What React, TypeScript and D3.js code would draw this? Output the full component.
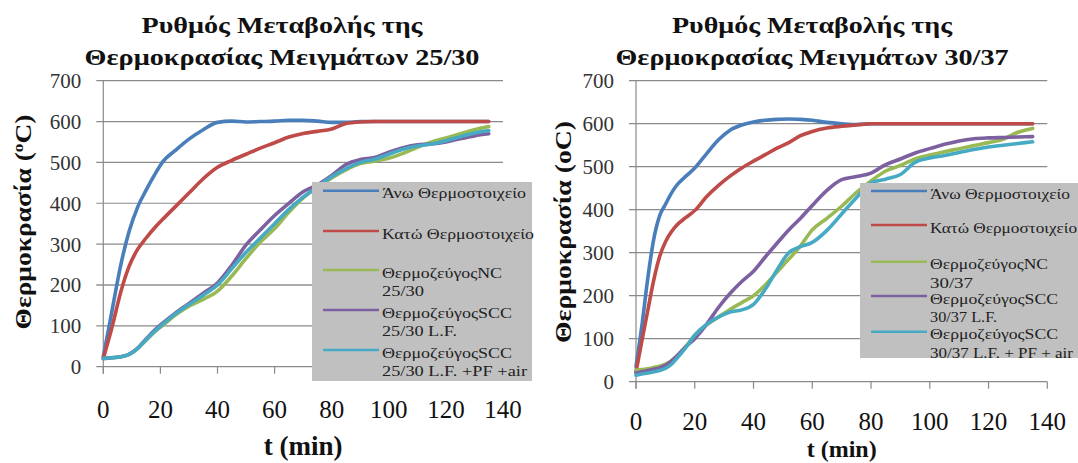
import React from 'react'
import * as d3 from 'd3'

// time axis (min) used by each chart
const tLeft = [0, 3, 6, 9, 12, 15, 18, 21, 25, 30, 35, 40, 45, 50, 55, 60, 65, 70, 75, 80, 85, 90, 95, 100, 105, 110, 115, 120, 125, 130, 135]
const tRight = [0, 2, 4, 6, 8, 10, 12, 14, 17, 20, 24, 28, 32, 36, 40, 44, 48, 52, 56, 60, 65, 70, 75, 80, 85, 90, 95, 100, 105, 110, 115, 120, 125, 130, 135]

// 25/30 mixes
const upperLeft = [25, 135, 245, 330, 390, 432, 470, 503, 528, 557, 580, 598, 601, 599, 600, 601, 603, 603, 601, 598, 598, 600, 600, 600, 600, 600, 600, 600, 600, 600, 600]
const lowerLeft = [20, 95, 180, 245, 287, 315, 340, 362, 390, 425, 460, 488, 505, 520, 535, 548, 562, 571, 576, 582, 595, 599, 600, 600, 600, 600, 600, 600, 600, 600, 600]
const ncLeft = [20, 22, 24, 30, 45, 65, 85, 102, 125, 148, 165, 185, 222, 265, 305, 338, 378, 413, 440, 462, 482, 497, 503, 510, 522, 537, 550, 560, 570, 580, 588]
const sccLeft = [20, 22, 24, 30, 45, 68, 90, 108, 130, 155, 180, 205, 248, 298, 335, 370, 400, 428, 445, 468, 495, 507, 512, 525, 536, 543, 545, 550, 558, 565, 570]
const sccAirLeft = [20, 22, 24, 30, 45, 66, 87, 105, 128, 152, 175, 200, 240, 280, 315, 350, 385, 415, 440, 465, 485, 500, 508, 520, 532, 540, 545, 553, 563, 572, 578]

// 30/37 mixes
const upperRight = [35, 130, 240, 330, 385, 412, 438, 458, 478, 497, 530, 562, 585, 597, 604, 608, 610, 611, 610, 608, 603, 600, 598, 600, 600, 600, 600, 600, 600, 600, 600, 600, 600, 600, 600]
const lowerRight = [23, 95, 165, 235, 290, 325, 348, 365, 382, 398, 430, 456, 478, 497, 513, 528, 543, 556, 572, 582, 590, 594, 597, 600, 600, 600, 600, 600, 600, 600, 600, 600, 600, 600, 600]
const ncRight = [27, 28, 30, 33, 36, 41, 48, 60, 82, 108, 132, 150, 168, 184, 200, 225, 255, 285, 316, 353, 380, 408, 440, 467, 490, 503, 518, 527, 535, 542, 549, 556, 564, 580, 589]
const sccRight = [20, 23, 26, 29, 32, 38, 48, 60, 82, 100, 133, 172, 205, 233, 257, 290, 322, 353, 380, 410, 445, 470, 477, 485, 505, 518, 532, 542, 552, 560, 565, 567, 568, 569, 570]
const sccAirRight = [15, 18, 20, 23, 26, 31, 40, 55, 80, 108, 133, 150, 162, 167, 180, 215, 260, 300, 314, 324, 352, 390, 428, 462, 471, 482, 510, 520, 526, 533, 540, 546, 550, 554, 558]

const yTicks = [0, 100, 200, 300, 400, 500, 600, 700]
const xTicks = [0, 20, 40, 60, 80, 100, 120, 140]

const colors = ['#4a7ebb', '#be4b48', '#98b954', '#7d60a0', '#46aac5']

const labelsLeft = [
    ['Άνω Θερμοστοιχείο'],
    ['Κατώ Θερμοστοιχείο'],
    ['ΘερμοζεύγοςNC', '25/30'],
    ['ΘερμοζεύγοςSCC', '25/30 L.F.'],
    ['ΘερμοζεύγοςSCC', '25/30 L.F. +PF +air'],
]
const labelsRight = [
    ['Άνω Θερμοστοιχείο'],
    ['Κατώ Θερμοστοιχείο'],
    ['ΘερμοζεύγοςNC', '30/37'],
    ['ΘερμοζεύγοςSCC', '30/37 L.F.'],
    ['ΘερμοζεύγοςSCC', '30/37 L.F. + PF + air'],
]

const FONT = '"Liberation Serif", "Times New Roman", serif'

const leftCfg = {
    x0: 103.3, x1: 503, yTop: 80.7, yBottom: 366.7,
    titleX: 282, title: ['Ρυθμός Μεταβολής της', 'Θερμοκρασίας Μειγμάτων 25/30'], titleLen: [281, 395],
    yTitleX: 31, yTitleY: 222, yTitleLen: 215, sup: true,
    xLabelY: 418, xTitleY: 455, xTitleSize: 27,
    legend: { x: 312, y: 182, w: 220, h: 199, rows: [190.7, 231, 270, 310, 350], gap: 18.5,
        lens: [[144], [152], [120, 42], [130, 75], [130, 145]] },
    darkGrid: 200,
}
const rightCfg = {
    x0: 636, x1: 1047.3, yTop: 80.7, yBottom: 381.7,
    titleX: 812, title: ['Ρυθμός Μεταβολής της', 'Θερμοκρασίας Μειγμάτων 30/37'], titleLen: [280, 393],
    yTitleX: 571, yTitleY: 232, yTitleLen: 222, sup: false,
    xLabelY: 430, xTitleY: 457, xTitleSize: 24,
    legend: { x: 860, y: 183, w: 218, h: 175, rows: [191, 225, 261.7, 296, 331.7], gap: 18.4,
        lens: [[140], [147], [118, 43], [128, 67], [128, 143]] },
    darkGrid: -1,
}

function Chart({ cfg, times, series, labels, id }) {
    const x = d3.scaleLinear().domain([0, 140]).range([cfg.x0, cfg.x1])
    const y = d3.scaleLinear().domain([0, 700]).range([cfg.yBottom, cfg.yTop])

    const line = d3.line<number>()
        .x((d, i) => x(times[i]))
        .y(d => y(d))
        .curve(d3.curveMonotoneX)

    const lg = cfg.legend

    return (
        <g fontFamily={FONT}>
            {/* title */}
            {cfg.title.map((t, i) => (
                <text key={i} x={cfg.titleX} y={33 + i * 32} textAnchor="middle" fontWeight="bold" fontSize={24}
                    textLength={cfg.titleLen[i]} lengthAdjust="spacingAndGlyphs" fill="#111">{t}</text>
            ))}

            {/* gridlines + y labels */}
            {yTicks.map(v => (
                <g key={v}>
                    <line x1={cfg.x0 - 7} x2={cfg.x1} y1={y(v)} y2={y(v)}
                        stroke={v === cfg.darkGrid ? '#5a5a5a' : '#8a8a8a'} strokeWidth={1.2} />
                    <text x={cfg.x0 - 22} y={y(v) + 7.5} textAnchor="end" fontSize={21} fill="#333">{v}</text>
                </g>
            ))}
            <line x1={cfg.x0} x2={cfg.x0} y1={cfg.yTop} y2={cfg.yBottom + 7} stroke="#8a8a8a" strokeWidth={1.2} />
            {xTicks.map(t => (
                <g key={t}>
                    <line x1={x(t)} x2={x(t)} y1={cfg.yBottom} y2={cfg.yBottom + 7} stroke="#8a8a8a" strokeWidth={1.2} />
                    <text x={x(t)} y={cfg.xLabelY} textAnchor="middle" fontSize={25} fill="#111">{t}</text>
                </g>
            ))}

            {/* axis titles */}
            <text transform={`translate(${cfg.yTitleX},${cfg.yTitleY}) rotate(-90)`} textAnchor="middle"
                fontWeight="bold" fontSize={24} fill="#111" textLength={cfg.yTitleLen} lengthAdjust="spacingAndGlyphs">
                {cfg.sup ? (
                    <>Θερμοκρασία (<tspan dy={-8} fontSize={15}>o</tspan><tspan dy={8}>C)</tspan></>
                ) : 'Θερμοκρασία (oC)'}
            </text>
            <text x={(cfg.x0 + cfg.x1) / 2} y={cfg.xTitleY} textAnchor="middle" fontWeight="bold" fontSize={cfg.xTitleSize}
                fill="#111">t (min)</text>

            {/* series */}
            {series.map((s, i) => (
                <path key={i} d={line(s)} fill="none" stroke={colors[i]} strokeWidth={3.6}
                    strokeLinejoin="round" strokeLinecap="round" />
            ))}

            {/* legend */}
            <clipPath id={id}>
                <rect x={lg.x} y={lg.y} width={1078 - lg.x} height={lg.h} />
            </clipPath>
            <rect x={lg.x} y={lg.y} width={lg.w} height={lg.h} fill="#c0c0c0" />
            <g clipPath={`url(#${id})`}>
                {labels.map((lab, i) => (
                    <g key={i}>
                        <line x1={lg.x + 11} x2={lg.x + 67} y1={lg.rows[i]} y2={lg.rows[i]} stroke={colors[i]} strokeWidth={2.6} />
                        {lab.map((txt, j) => (
                            <text key={j} x={lg.x + 70} y={lg.rows[i] + 7.5 + j * lg.gap} fontSize={15} fill="#222"
                                textLength={lg.lens[i][j]} lengthAdjust="spacingAndGlyphs">{txt}</text>
                        ))}
                    </g>
                ))}
            </g>
        </g>
    )
}

export default function App() {
    return (
        <svg width={1078} height={463} style={{ position: 'absolute', left: 0, top: 0, background: '#fff' }}>
            <Chart id="lgL" cfg={leftCfg} times={tLeft} labels={labelsLeft}
                series={[upperLeft, lowerLeft, ncLeft, sccLeft, sccAirLeft]} />
            <Chart id="lgR" cfg={rightCfg} times={tRight} labels={labelsRight}
                series={[upperRight, lowerRight, ncRight, sccRight, sccAirRight]} />
        </svg>
    )
}
